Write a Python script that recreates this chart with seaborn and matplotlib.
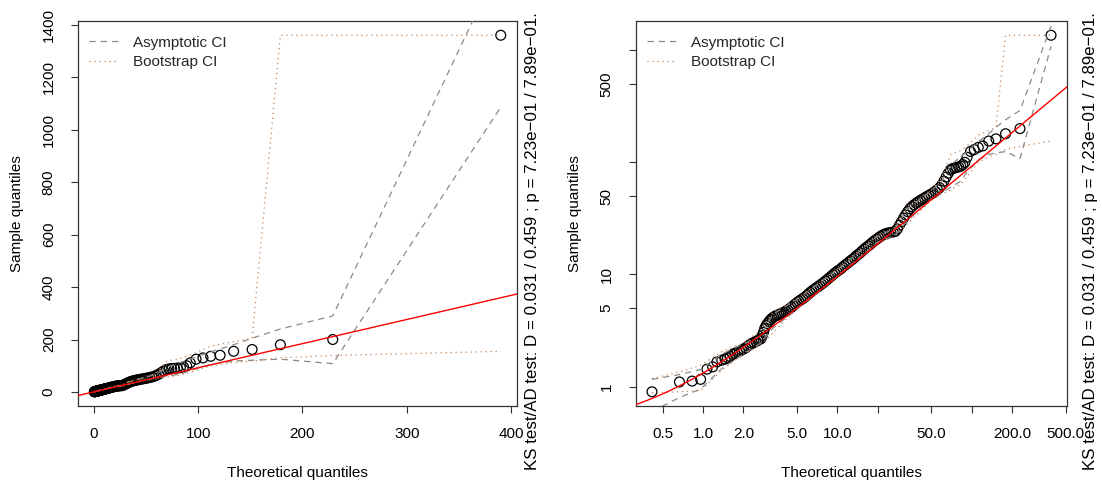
import numpy as np
import pandas as pd
import matplotlib
matplotlib.use("Agg")
import matplotlib.pyplot as plt
from matplotlib.lines import Line2D
import seaborn as sns

# ---------------- data ----------------
theo_q = [0.417, 0.668, 0.83, 0.96, 1.07, 1.18, 1.27, 1.38, 1.46, 1.52, 1.59, 1.66, 1.73, 1.80,
          1.87, 1.94, 2.0, 2.08, 2.16, 2.24, 2.32, 2.40, 2.48, 2.56, 2.63, 2.70, 2.76, 2.82, 2.88,
          2.95, 3.02, 3.10, 3.18, 3.27, 3.36, 3.46, 3.56, 3.67, 3.78, 3.90, 4.02, 4.15, 4.28, 4.42,
          4.56, 4.71, 4.86, 5.02, 5.18, 5.35, 5.52, 5.70, 5.89, 6.08, 6.28, 6.49, 6.70, 6.92, 7.15,
          7.38, 7.62, 7.87, 8.13, 8.40, 8.68, 8.97, 9.27, 9.58, 9.90, 10.2, 10.6, 10.9, 11.3, 11.7,
          12.1, 12.5, 12.9, 13.4, 13.8, 14.3, 14.8, 15.3, 15.8, 16.4, 17.0, 17.6, 18.2, 18.9, 19.6,
          20.3, 21.0, 21.8, 22.6, 23.4, 24.2, 25.1, 26.0, 27.0, 28.0, 29.0, 30.0, 31.1, 32.2, 33.4,
          34.6, 35.9, 37.2, 38.6, 40.0, 41.5, 43.0, 44.6, 46.3, 48.0, 49.8, 51.7, 53.6, 55.6, 57.7,
          59.9, 62.2, 64.6, 67.0, 69.5, 72.0, 74.6, 77.3, 80.0, 83.0, 86.0, 89.0, 92.4, 98.0, 104.6,
          112.0, 121.0, 134.0, 151.7, 178.8, 229.0, 390.0]
samp_q = [0.90, 1.10, 1.12, 1.16, 1.43, 1.50, 1.66, 1.72, 1.76, 1.81, 1.86, 1.94, 1.98, 2.03,
          2.07, 2.12, 2.16, 2.22, 2.30, 2.37, 2.43, 2.48, 2.53, 2.58, 2.62, 2.68, 2.85, 3.05, 3.30,
          3.50, 3.65, 3.80, 3.95, 4.08, 4.18, 4.26, 4.33, 4.40, 4.46, 4.53, 4.62, 4.72, 4.83, 4.96,
          5.10, 5.28, 5.45, 5.62, 5.78, 5.94, 6.08, 6.24, 6.45, 6.68, 6.92, 7.14, 7.34, 7.55, 7.76,
          7.98, 8.20, 8.45, 8.72, 9.00, 9.30, 9.62, 9.95, 10.3, 10.6, 10.9, 11.2, 11.6, 12.0, 12.4,
          12.8, 13.2, 13.6, 14.1, 14.6, 15.1, 15.6, 16.2, 16.8, 17.4, 18.0, 18.6, 19.3, 20.0, 20.6,
          21.3, 21.9, 22.5, 23.0, 23.3, 23.5, 23.7, 23.9, 24.2, 25.5, 27.5, 29.5, 31.8, 34.0, 36.3,
          38.5, 40.2, 41.8, 43.2, 44.5, 45.8, 47.0, 48.2, 49.5, 50.8, 52.0, 53.5, 55.2, 57.0, 59.5,
          63.0, 68.0, 74.0, 80.0, 85.5, 88.0, 89.0, 90.0, 91.0, 92.5, 95.5, 100.0, 111.0, 125.0, 130.0,
          136.0, 140.0, 155.0, 162.0, 180.0, 200.0, 1360.0]

ci_x    = [0.417, 0.668, 0.96, 1.38, 2.0, 2.7, 3.3, 5.0, 10.0, 20.0, 27.0, 33.0, 50.0, 60.0,
           70.0, 83.0, 92.4, 112.0, 134.0, 151.7, 178.8, 229.0, 390.0]
asym_lo = [0.60, 0.80, 0.95, 1.45, 1.95, 2.45, 3.3, 4.9, 9.6, 19.5, 22.5, 30.0, 47.0, 54.0,
           60.0, 68.0, 82.0, 105.0, 118.0, 121.0, 125.0, 108.0, 1086.0]
asym_hi = [1.16, 1.28, 1.42, 1.95, 2.40, 2.85, 4.4, 6.0, 11.0, 22.0, 25.8, 38.0, 56.0, 68.0,
           95.0, 112.0, 125.0, 153.0, 180.0, 205.0, 240.0, 290.0, 1640.0]
boot_lo = [0.88, 0.90, 0.92, 1.40, 1.95, 2.35, 3.0, 5.0, 9.5, 19.0, 22.0, 28.0, 46.0, 52.0,
           57.0, 64.0, 75.0, 100.0, 112.0, 118.0, 130.0, 139.0, 155.0]
boot_hi = [1.18, 1.35, 1.55, 2.05, 2.45, 3.2, 4.6, 6.1, 11.2, 22.5, 26.5, 39.0, 57.0, 72.0,
           118.0, 128.0, 140.0, 175.0, 192.0, 205.0, 1360.0, 1360.0, 1360.0]

line_intercept = 0.4
line_slope = 0.92

x_ticks_lin = [0, 100, 200, 300, 400]
y_ticks_lin = [0, 200, 400, 600, 800, 1000, 1200, 1400]
x_ticks_log = [0.5, 1, 2, 5, 10, 20, 50, 100, 200, 500]
x_labels_log = ["0.5", "1.0", "2.0", "5.0", "10.0", "", "50.0", "", "200.0", "500.0"]
y_ticks_log = [1, 5, 10, 50, 100, 500, 1000]
y_labels_log = ["1", "5", "10", "50", "", "500", ""]

legend_labels = ["Asymptotic CI", "Bootstrap CI"]
x_title = "Theoretical quantiles"
y_title = "Sample quantiles"
ks_text = "KS test/AD test: D = 0.031 / 0.459 ; p = 7.23e\u221201 / 7.89e\u221201."

# ---------------- style ----------------
sns.set_theme(style="ticks")
plt.rcParams["font.family"] = ["Liberation Sans", "DejaVu Sans"]
FS = 11
GRAY = "#8a8a8a"
BROWN = "#c98353"
DASH = (0, (5, 4))
DOT = (0, (1, 3))

W, H = 1102, 482
fig = plt.figure(figsize=(W / 100, H / 100), dpi=100)
fig.patch.set_facecolor("white")

pts = pd.DataFrame({"theoretical": theo_q, "sample": samp_q})
ci = pd.DataFrame({"x": ci_x, "alo": asym_lo, "ahi": asym_hi, "blo": boot_lo, "bhi": boot_hi})


def ext(lo, hi, log):
    if log:
        a, b = np.log10(lo), np.log10(hi)
        r = b - a
        return 10 ** (a - 0.04 * r), 10 ** (b + 0.04 * r)
    r = hi - lo
    return lo - 0.04 * r, hi + 0.04 * r


def panel(rect, log, ks_dx):
    ax = fig.add_axes(rect)
    ax.set_facecolor("white")
    if log:
        ax.set_xscale("log")
        ax.set_yscale("log")
    xl = ext(min(theo_q), max(theo_q), log)
    yl = ext(min(samp_q), max(samp_q), log)

    sns.scatterplot(data=pts, x="theoretical", y="sample", ax=ax, marker="o",
                    facecolor="none", edgecolor="black", s=50, linewidth=0.9, zorder=2)
    for col, colr, ls in [("alo", GRAY, DASH), ("ahi", GRAY, DASH),
                          ("blo", BROWN, DOT), ("bhi", BROWN, DOT)]:
        sns.lineplot(data=ci, x="x", y=col, ax=ax, color=colr, linestyle=ls,
                     linewidth=0.9, estimator=None, sort=False, zorder=3)
    if log:
        xs = np.geomspace(xl[0], xl[1], 300)
    else:
        xs = np.linspace(xl[0], xl[1], 50)
    sns.lineplot(x=xs, y=line_intercept + line_slope * xs, ax=ax, color="red",
                 linewidth=1.0, estimator=None, sort=False, zorder=4)

    ax.set_xlim(*xl)
    ax.set_ylim(*yl)
    if log:
        ax.set_xticks(x_ticks_log)
        ax.set_xticklabels(x_labels_log)
        ax.set_yticks(y_ticks_log)
        ax.set_yticklabels(y_labels_log, rotation=90, va="center")
    else:
        ax.set_xticks(x_ticks_lin)
        ax.set_xticklabels([str(v) for v in x_ticks_lin])
        ax.set_yticks(y_ticks_lin)
        ax.set_yticklabels([str(v) for v in y_ticks_lin], rotation=90, va="center")
    ax.minorticks_off()
    ax.tick_params(axis="both", direction="out", length=5, width=0.8, color="#333333",
                   labelsize=FS, labelcolor="black")
    ax.tick_params(axis="x", pad=10)
    ax.tick_params(axis="y", pad=11)
    for s in ax.spines.values():
        s.set_color("#333333")
        s.set_linewidth(0.9)
    ax.set_xlabel(x_title, fontsize=FS, color="black")
    ax.set_ylabel(y_title, fontsize=FS, color="black")
    ax.xaxis.set_label_coords(0.5, -0.155)
    ax.yaxis.set_label_coords(-0.122 * 439 / (rect[2] * W), 0.5)

    handles = [Line2D([], [], color=GRAY, linestyle=DASH, linewidth=0.9),
               Line2D([], [], color=BROWN, linestyle=DOT, linewidth=0.9)]
    ax.legend(handles, legend_labels, loc="upper left", frameon=False, fontsize=FS,
              handlelength=1.9, handletextpad=1.0, borderaxespad=0.3, labelspacing=0.35,
              bbox_to_anchor=(0.0, 0.99))

    fig.text(rect[0] + rect[2] + ks_dx / W, 1 - 470 / H, ks_text, rotation=90,
             ha="center", va="bottom", fontsize=12.2, color="black")
    return ax


panel([78 / W, 1 - 406 / H, 439 / W, 385 / H], log=False, ks_dx=16)
panel([636 / W, 1 - 406 / H, 431 / W, 385 / H], log=True, ks_dx=24)

fig.savefig("out.png", dpi=100, facecolor="white")
